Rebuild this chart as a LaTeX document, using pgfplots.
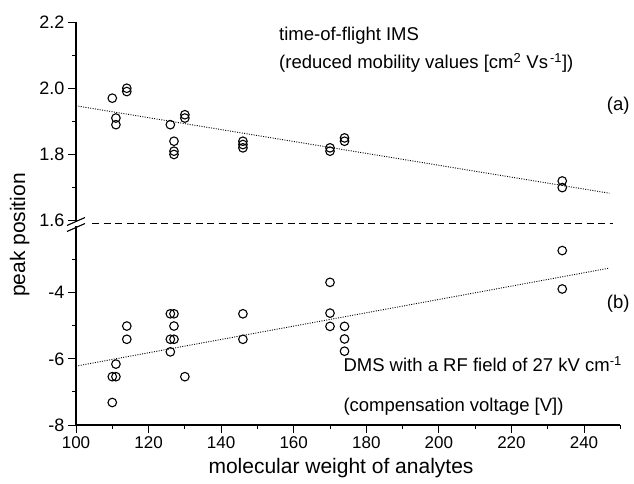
\documentclass[border=0pt]{standalone}
\usepackage{pgfplots}
\pgfplotsset{compat=1.18}
\usepackage{pgfplotstable}
\usepackage{fontspec}
\setmainfont{Liberation Sans}

% reduced mobility values (time-of-flight IMS)
\pgfplotstableread{
mw   k0
110  1.97
111  1.91
111  1.89
114  2.00
114  1.99
126  1.89
127  1.84
127  1.81
127  1.80
130  1.92
130  1.91
146  1.84
146  1.83
146  1.82
170  1.82
170  1.81
174  1.85
174  1.84
234  1.72
234  1.70
}\tofdata

% compensation voltages (DMS, 27 kV/cm)
\pgfplotstableread{
mw   cv
110  -7.32
110  -6.54
111  -6.54
111  -6.16
114  -5.01
114  -5.41
126  -4.64
127  -4.64
126  -5.41
127  -5.41
127  -5.01
126  -5.79
130  -6.54
146  -4.64
146  -5.41
170  -3.69
170  -4.62
170  -5.02
174  -5.02
174  -5.40
174  -5.77
234  -2.73
234  -3.89
}\dmsdata

\pgfplotsset{
  common/.style={
    scale only axis, width=544.3pt,
    xmin=100, xmax=250,
    axis line style={line width=1.1pt},
    tick style={line width=1pt, black},
    tick align=outside,
    major tick length=8pt, minor tick length=4pt,
    tick label style={font=\fontsize{17}{20}\selectfont},
    yticklabel style={font=\fontsize{18}{21}\selectfont},
    /pgf/number format/assume math mode=true,
    clip=false,
  },
  pts/.style={only marks, mark=o, mark size=4.3pt, black,
    mark options={line width=1.1pt}},
  fit/.style={black, line width=0.9pt, dash pattern=on 1pt off 1.4pt},
}

\begin{document}
\begin{tikzpicture}
\path[use as bounding box] (0pt,0pt) rectangle (634pt,-483pt);

% upper panel
\begin{axis}[common,
  at={(76pt,-220.7pt)}, anchor=south west, height=198.7pt,
  ymin=1.6, ymax=2.2,
  axis x line=none, axis y line*=left, ytick pos=left,
  ytick={1.6,1.8,2.0,2.2}, minor ytick={1.7,1.9,2.1},
  yticklabel style={/pgf/number format/.cd, fixed, fixed zerofill, precision=1},
]
\addplot[pts] table[x=mw, y=k0] {\tofdata};
\addplot[fit] coordinates {(100,1.947) (247,1.683)};
\end{axis}

% lower panel
\begin{axis}[common,
  at={(76pt,-425pt)}, anchor=south west, height=198.6pt,
  ymin=-8, ymax=-2,
  axis x line*=bottom, axis y line*=left,
  xtick pos=bottom, ytick pos=left,
  xtick={100,120,...,240}, minor xtick={110,130,...,250},
  ytick={-8,-6,-4}, minor ytick={-7,-5,-3},
]
\addplot[pts] table[x=mw, y=cv] {\dmsdata};
\addplot[fit] coordinates {(100,-6.22) (247,-3.26)};
\end{axis}

% axis break and separator
\draw[line width=1.1pt] (67pt,-225.5pt) -- (85pt,-217.5pt);
\draw[line width=1.1pt] (67pt,-231.5pt) -- (85pt,-223.5pt);
\draw[line width=0.9pt, dash pattern=on 7pt off 4.5pt] (92pt,-223pt) -- (613pt,-223pt);

% annotations
\begin{scope}[every node/.style={inner sep=0pt, font=\fontsize{18.5}{22}\selectfont}]
\node[anchor=base west] at (279pt,-40.7pt) {time-of-flight IMS};
\node[anchor=base west] at (279pt,-68.3pt) {(reduced mobility values [cm\textsuperscript{2} Vs\kern2pt\textsuperscript{-1}])};
\node[anchor=base west] at (606.7pt,-110pt) {(a)};
\node[anchor=base west] at (606.7pt,-308pt) {(b)};
\node[anchor=base west] at (343.3pt,-371.7pt) {DMS with a RF field of 27 kV cm\textsuperscript{-1}};
\node[anchor=base west] at (343.3pt,-411.7pt) {(compensation voltage [V])};
\end{scope}

% axis titles
\node[inner sep=0pt, anchor=base, font=\fontsize{21}{24}\selectfont] at (341pt,-473pt) {molecular weight of analytes};
\node[inner sep=0pt, anchor=base, rotate=90, font=\fontsize{21}{24}\selectfont] at (25pt,-235pt) {peak position};
\end{tikzpicture}
\end{document}
